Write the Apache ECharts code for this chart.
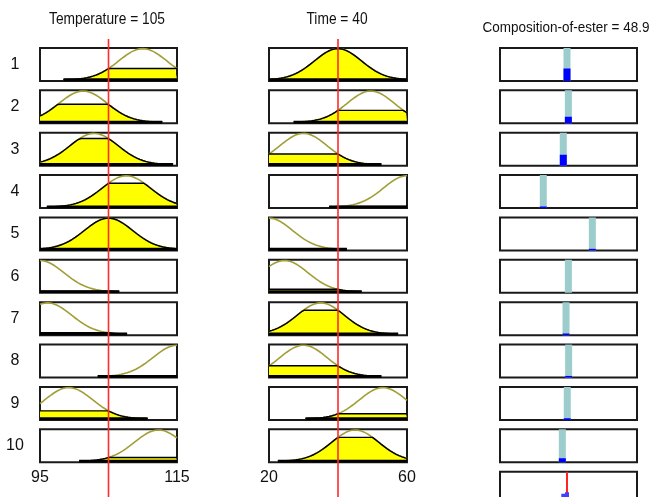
<!DOCTYPE html>
<html>
<head>
    <meta charset="utf-8"/>
    <title>Rule viewer</title>
    <script src="https://cdn.jsdelivr.net/npm/echarts@6/dist/echarts.min.js"></script>
    <style>html, body { margin: 0; padding: 0; background: #fff; }</style>
</head>
<body>
<div id="main" style="width: 651px; height: 497px"></div>
<script type="text/javascript">
    // inputs / output of the fuzzy system
    var ruleLabels = ['1', '2', '3', '4', '5', '6', '7', '8', '9', '10'];
    var tempRange = [95, 115];
    var timeRange = [20, 60];
    var outRange = [0, 100];
    var tempTickStep = 20;
    var timeTickStep = 40;
    var tempInput = 105;
    var timeInput = 40;
    var outValue = 48.9;

    // gaussian membership functions (centre per rule)
    var tempCenters = [110, 101.3, 102.9, 107.6, 105, 95, 96.1, 115, 99.2, 112.3];
    var tempSigma = 3.5;
    var timeCenters = [40, 49.5, 30, 60, 20, 24.5, 35, 30, 53, 45];
    var timeSigma = 6.8;

    // output constants (bar position) and firing strength (blue height)
    var outPositions = [48.9, 49.9, 46.2, 31.6, 67.4, 49.9, 48.2, 50.1, 49.1, 45.5];
    var ruleWeights = [0.38, 0.2, 0.33, 0.05, 0.05, 0.02, 0.05, 0.05, 0.05, 0.12];

    var myChart = echarts.init(document.getElementById('main'));
    var FONT = '"Liberation Sans", Arial, sans-serif';
    var THR = 0.004;   // below this the MF is not drawn
    var cols = [{left: 40, width: 137}, {left: 269, width: 138}, {left: 500, width: 137}];
    var ROW0 = 48, PITCH = 42.37, H = 33;

    var grids = [], xAxes = [], yAxes = [], series = [];

    function gauss(x, c, s) {
        return Math.exp(-(x - c) * (x - c) / (2 * s * s));
    }

    function addGrid(g, x, y) {
        g.outerBoundsMode = 'none';
        grids.push(g);
        var gi = grids.length - 1;
        x.gridIndex = gi;
        y.gridIndex = gi;
        xAxes.push(x);
        yAxes.push(y);
        return gi;
    }

    function panelX(range, step) {
        var ax = {
            type: 'value', min: range[0], max: range[1],
            axisLine: {show: false}, axisTick: {show: false}, splitLine: {show: false},
            axisLabel: {show: false}
        };
        if (step) {
            ax.interval = step;
            ax.axisLabel = {
                show: true, margin: 7,
                fontFamily: FONT, fontSize: 16, color: '#111'
            };
        }
        return ax;
    }

    function panelY(min, max, name) {
        var ax = {
            type: 'value', min: min, max: max,
            axisLine: {show: false}, axisTick: {show: false}, splitLine: {show: false},
            axisLabel: {show: false}
        };
        if (name) {
            ax.name = name;
            ax.nameLocation = 'middle';
            ax.nameRotate = 0;
            ax.nameGap = 25;
            ax.nameTextStyle = {fontFamily: FONT, fontSize: 16, color: '#111', align: 'center'};
        }
        return ax;
    }

    function panelGrid(col, y0) {
        return {
            left: cols[col].left, width: cols[col].width, top: y0, height: H,
            show: true, borderColor: '#1a1a1a', borderWidth: 2, backgroundColor: '#fff'
        };
    }

    function mfSeries(gi, range, c, s, input) {
        var level = gauss(input, c, s);
        var curve = [], patch = [], base = [];
        for (var k = 0; k <= 140; k++) {
            var x = range[0] + (range[1] - range[0]) * k / 140;
            var m = gauss(x, c, s);
            if (m < THR) continue;
            curve.push([x, m]);
            patch.push([x, Math.min(m, level)]);
            base.push([x, 0]);
        }
        series.push({
            type: 'line', xAxisIndex: gi, yAxisIndex: gi, data: curve, showSymbol: false, silent: true,
            lineStyle: {color: '#a29e36', width: 1.6}
        });
        series.push({
            type: 'line', xAxisIndex: gi, yAxisIndex: gi, data: patch, showSymbol: false, silent: true,
            lineStyle: {color: '#000', width: 1.4},
            areaStyle: {color: '#ffff00', opacity: 1}
        });
        series.push({
            type: 'line', xAxisIndex: gi, yAxisIndex: gi, data: base, showSymbol: false, silent: true,
            lineStyle: {color: '#000', width: 2.8}
        });
    }

    function vLine(gi, x, h, color, width, z) {
        series.push({
            type: 'line', xAxisIndex: gi, yAxisIndex: gi, data: [[x, 0], [x, h]],
            showSymbol: false, silent: true, z: z || 2,
            lineStyle: {color: color, width: width}
        });
    }

    for (var i = 0; i < ruleLabels.length; i++) {
        var rowTop = ROW0 + i * PITCH;
        var last = i === ruleLabels.length - 1;

        var g1 = addGrid(panelGrid(0, rowTop), panelX(tempRange, last ? tempTickStep : 0),
            panelY(-0.04, 1.02, ruleLabels[i]));
        mfSeries(g1, tempRange, tempCenters[i], tempSigma, tempInput);

        var g2 = addGrid(panelGrid(1, rowTop), panelX(timeRange, last ? timeTickStep : 0),
            panelY(-0.04, 1.02));
        mfSeries(g2, timeRange, timeCenters[i], timeSigma, timeInput);

        var g3 = addGrid(panelGrid(2, rowTop), panelX(outRange), panelY(0, 1));
        vLine(g3, outPositions[i], 1, '#9ccccc', 7);
        vLine(g3, outPositions[i], ruleWeights[i], '#0000ff', 7);
    }

    // aggregated output panel (cut off by the bottom edge)
    var gAgg = addGrid(panelGrid(2, ROW0 + 10 * PITCH), panelX(outRange), panelY(0, 1));
    vLine(gAgg, outValue, 1, '#ff2222', 2);
    for (var j = 0; j < outPositions.length; j++) {
        vLine(gAgg, outPositions[j], ruleWeights[j], '#4040ff', 4);
    }

    // red input markers running through the whole column
    var gr1 = addGrid({left: cols[0].left, width: cols[0].width, top: 39, height: 470},
        panelX(tempRange), panelY(0, 1));
    vLine(gr1, tempInput, 1, '#ff2a2a', 1.6, 10);
    var gr2 = addGrid({left: cols[1].left, width: cols[1].width, top: 39, height: 470},
        panelX(timeRange), panelY(0, 1));
    vLine(gr2, timeInput, 1, '#ff2a2a', 1.6, 10);

    // column headings, narrow like the original figure font
    function heading(text, x, y, size, sx) {
        return {
            type: 'text', x: x, y: y, scaleX: sx, silent: true,
            style: {text: text, font: size + 'px ' + FONT, fill: '#111', align: 'center', verticalAlign: 'middle'}
        };
    }

    var option = {
        animation: false,
        backgroundColor: '#fff',
        graphic: [
            heading('Temperature = ' + tempInput, 107, 19, 17, 0.81),
            heading('Time = ' + timeInput, 337, 19, 17, 0.81),
            heading('Composition-of-ester = ' + outValue, 566, 28, 14.5, 0.93)
        ],
        grid: grids,
        xAxis: xAxes,
        yAxis: yAxes,
        series: series
    };

    myChart.setOption(option);
</script>
</body>
</html>
